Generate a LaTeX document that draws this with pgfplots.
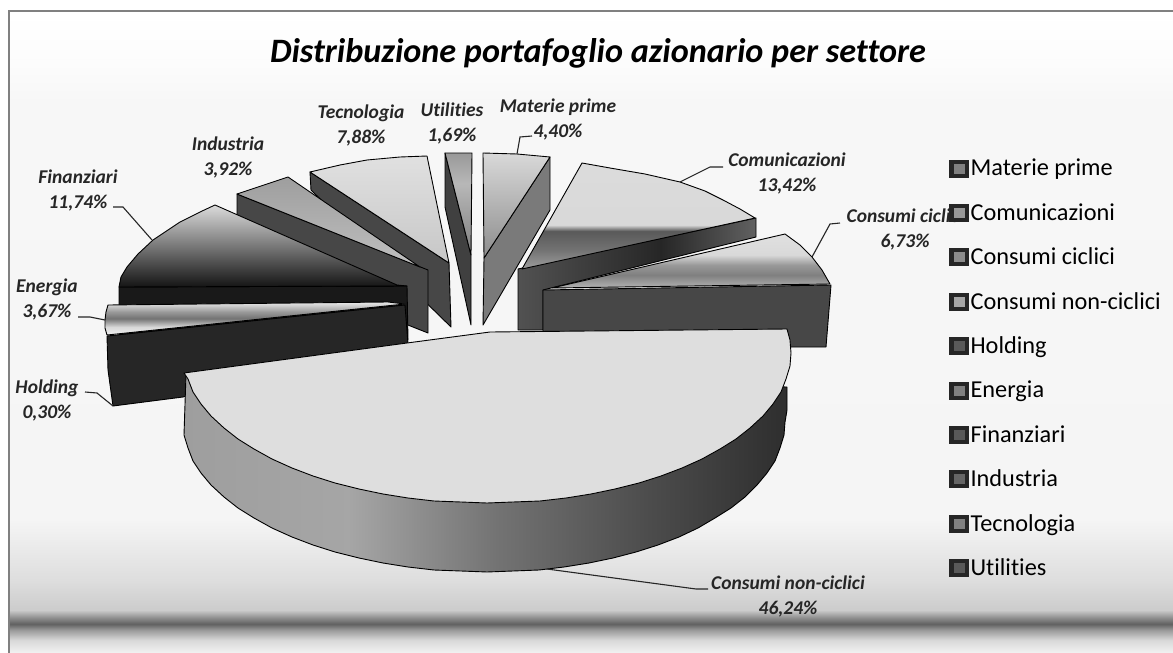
\documentclass[border=0pt]{standalone}
\usepackage{fontspec}
\setmainfont[Ligatures=NoCommon]{Carlito}
\usepackage{pgfplots}
\pgfplotsset{compat=1.18}

% vertical shadings: 25bp = bottom of the path, 75bp = top of the path
\pgfdeclareverticalshading{bgshade}{100bp}{color(0bp)=(black!5);color(25bp)=(black!5);color(26bp)=(black!15);color(26.8bp)=(black!40);color(27.26bp)=(black!62);color(27.73bp)=(black!45);color(28.35bp)=(black!20);color(30.7bp)=(black!13);color(33.8bp)=(black!7);color(35.4bp)=(black!4);color(68.1bp)=(black!3);color(71.2bp)=(black!1);color(75bp)=(white);color(100bp)=(white)}
\pgfdeclareverticalshading{commtop}{100bp}{color(0bp)=(black!38);color(25bp)=(black!38);color(34bp)=(black!55);color(42.9bp)=(black!65);color(45.75bp)=(black!15);color(75bp)=(black!14);color(100bp)=(black!14)}
\pgfdeclareverticalshading{cicltop}{100bp}{color(0bp)=(black!30);color(25bp)=(black!30);color(37bp)=(black!50);color(46.3bp)=(black!40);color(55.6bp)=(black!15);color(75bp)=(black!12);color(100bp)=(black!12)}
\pgfdeclareverticalshading{fintop}{100bp}{color(0bp)=(black!92);color(25bp)=(black!92);color(38bp)=(black!72);color(55bp)=(black!45);color(75bp)=(black!14);color(100bp)=(black!14)}
\pgfdeclareverticalshading{enertop}{100bp}{color(0bp)=(black!6);color(25bp)=(black!6);color(37bp)=(black!15);color(50bp)=(black!55);color(60bp)=(black!40);color(75bp)=(black!8);color(100bp)=(black!8)}
\pgfdeclareverticalshading{mattop}{100bp}{color(0bp)=(black!45);color(25bp)=(black!45);color(75bp)=(black!15);color(100bp)=(black!15)}
\pgfdeclareverticalshading{utiltop}{100bp}{color(0bp)=(black!50);color(25bp)=(black!50);color(60bp)=(black!28);color(75bp)=(black!40);color(100bp)=(black!40)}
\pgfdeclareverticalshading{tectop}{100bp}{color(0bp)=(black!22);color(25bp)=(black!22);color(75bp)=(black!12);color(100bp)=(black!12)}
\pgfdeclareverticalshading{indtop}{100bp}{color(0bp)=(black!25);color(25bp)=(black!25);color(75bp)=(black!38);color(100bp)=(black!38)}
\pgfdeclarehorizontalshading{bigside}{100bp}{color(0bp)=(black!38);color(25bp)=(black!38);color(38.7bp)=(black!35);color(51bp)=(black!55);color(63.4bp)=(black!70);color(75bp)=(black!82);color(100bp)=(black!82)}
\pgfdeclarehorizontalshading{commside}{100bp}{color(0bp)=(black!68);color(25bp)=(black!68);color(55bp)=(black!85);color(75bp)=(black!62);color(100bp)=(black!62)}

\tikzset{lab/.style={font=\fontsize{19.5}{25}\selectfont\bfseries\itshape, align=center, text=black!85}}
\pgfplotsset{
    slice/.style={draw=black, line width=0.9pt, line join=round, forget plot},
    leader/.style={draw=black!85, line width=1.1pt, forget plot},
    key/.style={legend image code/.code={
        \fill[black!85] (0pt,-8.5pt) rectangle (19pt,8.5pt);
        \fill[black!#1] (4.5pt,-4.5pt) rectangle (14.5pt,4.5pt);}},
}

\begin{document}
\begin{tikzpicture}
\begin{axis}[
    scale only axis,
    width=1173pt, height=653pt,
    xmin=0, xmax=1173,
    ymin=0, ymax=653,
    y dir=reverse,
    hide axis,
    legend cell align=left,
    legend style={
        at={(axis cs:949,157)}, anchor=north west,
        draw=none, fill=none, font=\fontsize{24.3}{26}\selectfont,
        row sep=22.1pt, inner sep=0pt,
        /tikz/every even column/.append style={column sep=5pt},
    },
]
% page and background
\addplot[forget plot, draw=none, fill=white] coordinates {(0,0) (1173,0) (1173,653) (0,653)} --cycle;
\addplot[forget plot, draw=none, shading=bgshade] coordinates {(9,11) (1173,11) (1173,653) (9,653)} --cycle;
\addplot[forget plot, draw=black!50, line width=1.5pt] coordinates {(9,653) (9,11) (1173,11)};

% Materie prime
\addplot[slice, fill=black!52] coordinates {(550,157) (550,210) (483,325) (484,258)} --cycle;
\addplot[slice, shading=mattop] coordinates {(483,153) (517,154) (550,157) (484,258)} --cycle;
% Utilities
\addplot[slice, fill=black!75] coordinates {(445,153) (445,207) (471,325) (471,255)} --cycle;
\addplot[slice, shading=utiltop] coordinates {(445,153) (472,153) (471,255)} --cycle;
% Tecnologia
\addplot[slice, fill=black!72] coordinates {(310,172) (311,190) (451,327) (449,263)} --cycle;
\addplot[slice, shading=tectop] coordinates {(310,172) (340,165) (367,160) (400,157) (427,156) (449,263)} --cycle;
% Industria
\addplot[slice, fill=black!72] coordinates {(237,194) (237,257) (428,333) (428,270)} --cycle;
\addplot[slice, shading=indtop] coordinates {(237,194) (288,177) (420,267)} --cycle;
% Finanziari
\addplot[slice, fill=black!90] coordinates {(119,287) (407,286) (408,340) (119,340)} --cycle;
\addplot[slice, shading=fintop] coordinates {(119,287) (121,277) (127,267) (138,254) (153,240) (180,222) (200,212) (215,205) (397,285) (407,286)} --cycle;
% Holding
\addplot[slice, fill=black!85] coordinates {(107,336) (405,305) (408,344) (183,397) (113,406) (108,370)} --cycle;
% Energia
\addplot[slice, shading=enertop] coordinates {(108,305) (388,302) (405,304) (107,335) (105,328) (105,320) (106,312)} --cycle;
% Comunicazioni
\addplot[slice, shading=commside] coordinates {(518,269) (756,218) (756,237) (543,290) (543,330) (518,330)} --cycle;
\addplot[slice, shading=commtop] coordinates {(582,163) (610,168) (645,174) (680,182) (705,191) (723,200) (740,209) (755,218) (522,269)} --cycle;
% Consumi ciclici
\addplot[slice, fill=black!72] coordinates {(543,290) (831,285) (826,347) (543,347)} --cycle;
\addplot[slice, shading=cicltop] coordinates {(552,288) (785,234) (800,245) (812,257) (822,270) (830,284)} --cycle;
% Consumi non-ciclici
\addplot[slice, shading=bigside] coordinates {(186,374) (787,387) (787,410) (785,422) (784,435) (780,448) (775,461) (767,473) (757,485) (745,497) (731,508) (715,518) (698,528) (679,537) (658,545) (636,552) (613,558) (589,563) (564,567) (539,570) (513,571) (487,572) (461,571) (434,570) (408,567) (383,563) (359,558) (335,552) (313,545) (292,537) (272,528) (254,518) (238,508) (224,497) (211,485) (201,473) (193,461) (188,448) (184,435)} --cycle;
\addplot[slice, fill=black!13] coordinates {(184,373) (407,343) (490,332) (787,329) (790,340) (791,353) (790,366) (786,379) (781,392) (773,404) (763,416) (750,428) (736,439) (720,449) (702,459) (682,468) (661,476) (639,483) (615,489) (591,494) (566,498) (540,501) (513,502) (487,503) (461,502) (434,501) (408,498) (383,494) (359,489) (335,483) (313,476) (292,468) (272,459) (254,449) (238,439) (224,428) (211,416) (201,404) (193,392) (188,379)} --cycle;

% leader lines
\addplot[leader] coordinates {(517,154) (520,137) (532,136)};
\addplot[leader] coordinates {(680,182) (710,167) (723,167)};
\addplot[leader] coordinates {(812,257) (830,224) (840,223)};
\addplot[leader] coordinates {(152,240) (123,207) (113,207)};
\addplot[leader] coordinates {(105,320) (90,317) (78,317)};
\addplot[leader] coordinates {(113,406) (97,393) (85,392)};
\addplot[leader] coordinates {(547,569) (696,589) (708,589)};

% title and slice labels
\node[anchor=base, font=\fontsize{34.2}{36}\selectfont\bfseries\itshape] at (axis cs:598,62) {Distribuzione portafoglio azionario per settore};
\node[lab] at (axis cs:558,119) {Materie prime\\4,40\%};
\node[lab] at (axis cs:452,123) {Utilities\\1,69\%};
\node[lab] at (axis cs:361,125) {Tecnologia\\7,88\%};
\node[lab] at (axis cs:228,157) {Industria\\3,92\%};
\node[lab] at (axis cs:78,190) {Finanziari\\11,74\%};
\node[lab] at (axis cs:47,299) {Energia\\3,67\%};
\node[lab] at (axis cs:47,400) {Holding\\0,30\%};
\node[lab] at (axis cs:787,173) {Comunicazioni\\13,42\%};
\node[lab] at (axis cs:905,229) {Consumi ciclici\\6,73\%};
\node[lab] at (axis cs:788,596) {Consumi non-ciclici\\46,24\%};

% legend
\addlegendimage{key=50}\addlegendentry{Materie prime}
\addlegendimage{key=40}\addlegendentry{Comunicazioni}
\addlegendimage{key=45}\addlegendentry{Consumi ciclici}
\addlegendimage{key=35}\addlegendentry{Consumi non-ciclici}
\addlegendimage{key=65}\addlegendentry{Holding}
\addlegendimage{key=50}\addlegendentry{Energia}
\addlegendimage{key=65}\addlegendentry{Finanziari}
\addlegendimage{key=60}\addlegendentry{Industria}
\addlegendimage{key=50}\addlegendentry{Tecnologia}
\addlegendimage{key=65}\addlegendentry{Utilities}
\end{axis}
\end{tikzpicture}
\end{document}
